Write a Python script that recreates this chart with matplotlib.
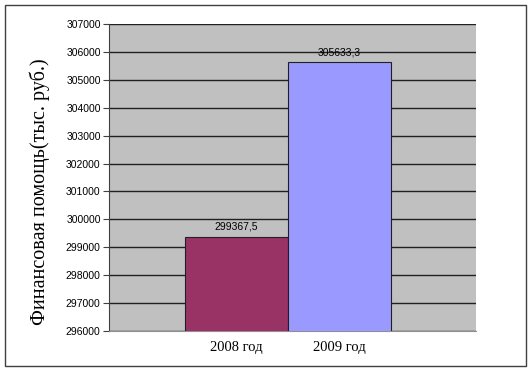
import numpy as np
import matplotlib.pyplot as plt
from matplotlib.patches import Rectangle

# data
years = ['2008 год', '2009 год']
values = [299367.5, 305633.3]
value_labels = ['299367,5', '305633,3']
colors = ['#993366', '#9999FF']
yticks = np.arange(296000, 307001, 1000)

fig = plt.figure(figsize=(5.31, 3.75), dpi=100)
W, H = 531, 375

# outer chart frame
fig.patches.append(Rectangle((5 / W, 1 - 366 / H), 521 / W, 361 / H,
                             transform=fig.transFigure, fill=False,
                             edgecolor='#404040', linewidth=1.0))

ax = fig.add_axes([109 / W, 1 - 331 / H, 367 / W, 307 / H])
ax.set_facecolor('#C0C0C0')

x = np.arange(len(years))
ax.bar(x, values, width=1.0, color=colors, edgecolor='#202020', linewidth=0.8, zorder=3)
ax.set_xlim(-1.24, 2.33)
ax.set_ylim(296000, 307000)
ax.set_yticks(yticks)
ax.set_yticklabels([str(v) for v in yticks], fontsize=7.5, family='Liberation Sans')
ax.yaxis.grid(True, color='#202020', linewidth=1.0, zorder=1)
ax.set_axisbelow(True)

ax.set_xticks(x)
ax.set_xticklabels(years, fontsize=10.5, family='Liberation Serif')
ax.tick_params(axis='x', length=0, pad=7)
ax.tick_params(axis='y', length=4, width=0.8, color='#404040', pad=2)

for s in ['top', 'right']:
    ax.spines[s].set_visible(False)
ax.spines['left'].set_color('#404040')
ax.spines['bottom'].set_color('#909090')

for xi, v, lab in zip(x, values, value_labels):
    ax.text(xi, v + 180, lab, ha='center', va='bottom', fontsize=7.5,
            family='Liberation Sans')

fig.text(40 / W, 1 - 192 / H, 'Финансовая помощь(тыс. руб.)', rotation=90,
         ha='center', va='center', fontsize=14.5, family='Liberation Serif')

plt.savefig('out.png', dpi=100)
